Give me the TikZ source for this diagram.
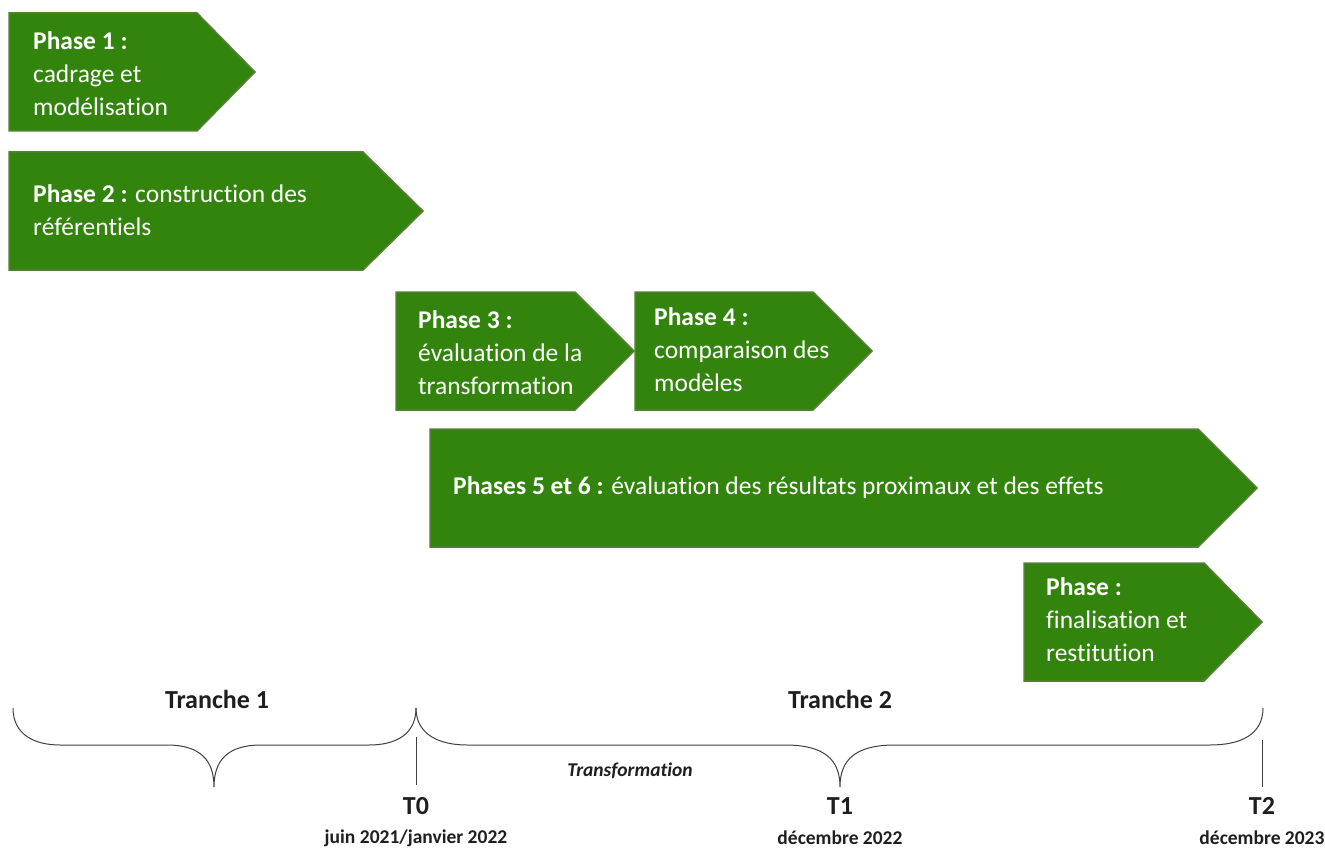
\documentclass[tikz,border=0pt]{standalone}
\usepackage{fontspec}
\setmainfont{Carlito}[Ligatures=NoCommon]
\definecolor{phasegreen}{RGB}{50,132,12}
\definecolor{phaseedge}{RGB}{84,128,53}
\definecolor{ink}{RGB}{30,30,30}
\begin{document}
\begin{tikzpicture}[x=1pt,y=-1pt,
 phase/.style={fill=phasegreen,draw=phaseedge,line width=1.5pt,line join=miter},
 ptext/.style={text=white,font=\fontsize{25.5}{33}\selectfont,align=left,anchor=west,inner sep=0pt},
 brace/.style={draw=ink!85,line width=1pt},
 tick/.style={draw=ink!85,line width=1pt},
 lbl/.style={text=ink,font=\bfseries\fontsize{26}{30}\selectfont,inner sep=0pt},
 datelbl/.style={text=ink,font=\bfseries\fontsize{19.5}{22}\selectfont,inner sep=0pt},
 translbl/.style={text=ink,font=\bfseries\itshape\fontsize{19.5}{22}\selectfont,inner sep=0pt}]
\useasboundingbox (0,0) rectangle (1325,848);
% phase arrows
\path[phase] (9,13) -- (197,13) -- (255,72) -- (197,131) -- (9,131) -- cycle;
\path[phase] (9,152) -- (363,152) -- (423,211) -- (363,270) -- (9,270) -- cycle;
\path[phase] (396,292) -- (575,292) -- (634,351) -- (575,410) -- (396,410) -- cycle;
\path[phase] (635,292) -- (813,292) -- (872,351) -- (813,410) -- (635,410) -- cycle;
\path[phase] (430,429) -- (1198,429) -- (1257,488) -- (1198,547) -- (430,547) -- cycle;
\path[phase] (1024,563) -- (1204,563) -- (1262,622) -- (1204,681) -- (1024,681) -- cycle;
% texts
\node[ptext] (p1) at (33,74) {\textbf{Phase 1 :}\\cadrage et\\modélisation};
\node[ptext] (p2) at (33,210) {\textbf{Phase 2 :} construction des\\référentiels};
\node[ptext] (p3) at (418,353) {\textbf{Phase 3 :}\\évaluation de la\\transformation};
\node[ptext] (p4) at (654,350) {\textbf{Phase 4 :}\\comparaison des\\modèles};
\node[ptext] (p56) at (453,488) {\textbf{Phases 5 et 6 :} évaluation des résultats proximaux et des effets};
\node[ptext] (pf) at (1046,620) {\textbf{Phase :}\\finalisation et\\restitution};
% braces
\draw[brace] (13,708) .. controls (13,735) and (35,745) .. (60,745) -- (167,745)
  .. controls (200,745) and (214,760) .. (214,787)
  .. controls (214,760) and (228,745) .. (261,745) -- (369,745)
  .. controls (395,745) and (416,735) .. (416,708);
\draw[brace] (416,708) .. controls (416,735) and (440,745) .. (467,745) -- (785,745)
  .. controls (825,745) and (840,760) .. (840,787)
  .. controls (840,760) and (855,745) .. (895,745) -- (1210,745)
  .. controls (1240,745) and (1263,735) .. (1263,708);
% time points
\node[lbl] (T0) at (416,806) {T0};
\node[lbl] (T1) at (840,806) {T1};
\node[lbl] (T2) at (1262,806) {T2};
\coordinate (t0top) at (416,737);
\coordinate (t0bot) at (416,785);
\coordinate (t2top) at (1262,740);
\coordinate (t2bot) at (1262,787);
\draw[tick] (t0top) -- (t0bot);
\draw[tick] (t2top) -- (t2bot);
% labels
\node[lbl] (tr1) at (217,699) {Tranche 1};
\node[lbl] (tr2) at (840,699) {Tranche 2};
\node[translbl] (trans) at (630,771) {Transformation};
\node[datelbl] (d0) at (416,838) {juin 2021/janvier 2022};
\node[datelbl] (d1) at (840,838) {décembre 2022};
\node[datelbl] (d2) at (1262,838) {décembre 2023};
\end{tikzpicture}
\end{document}
